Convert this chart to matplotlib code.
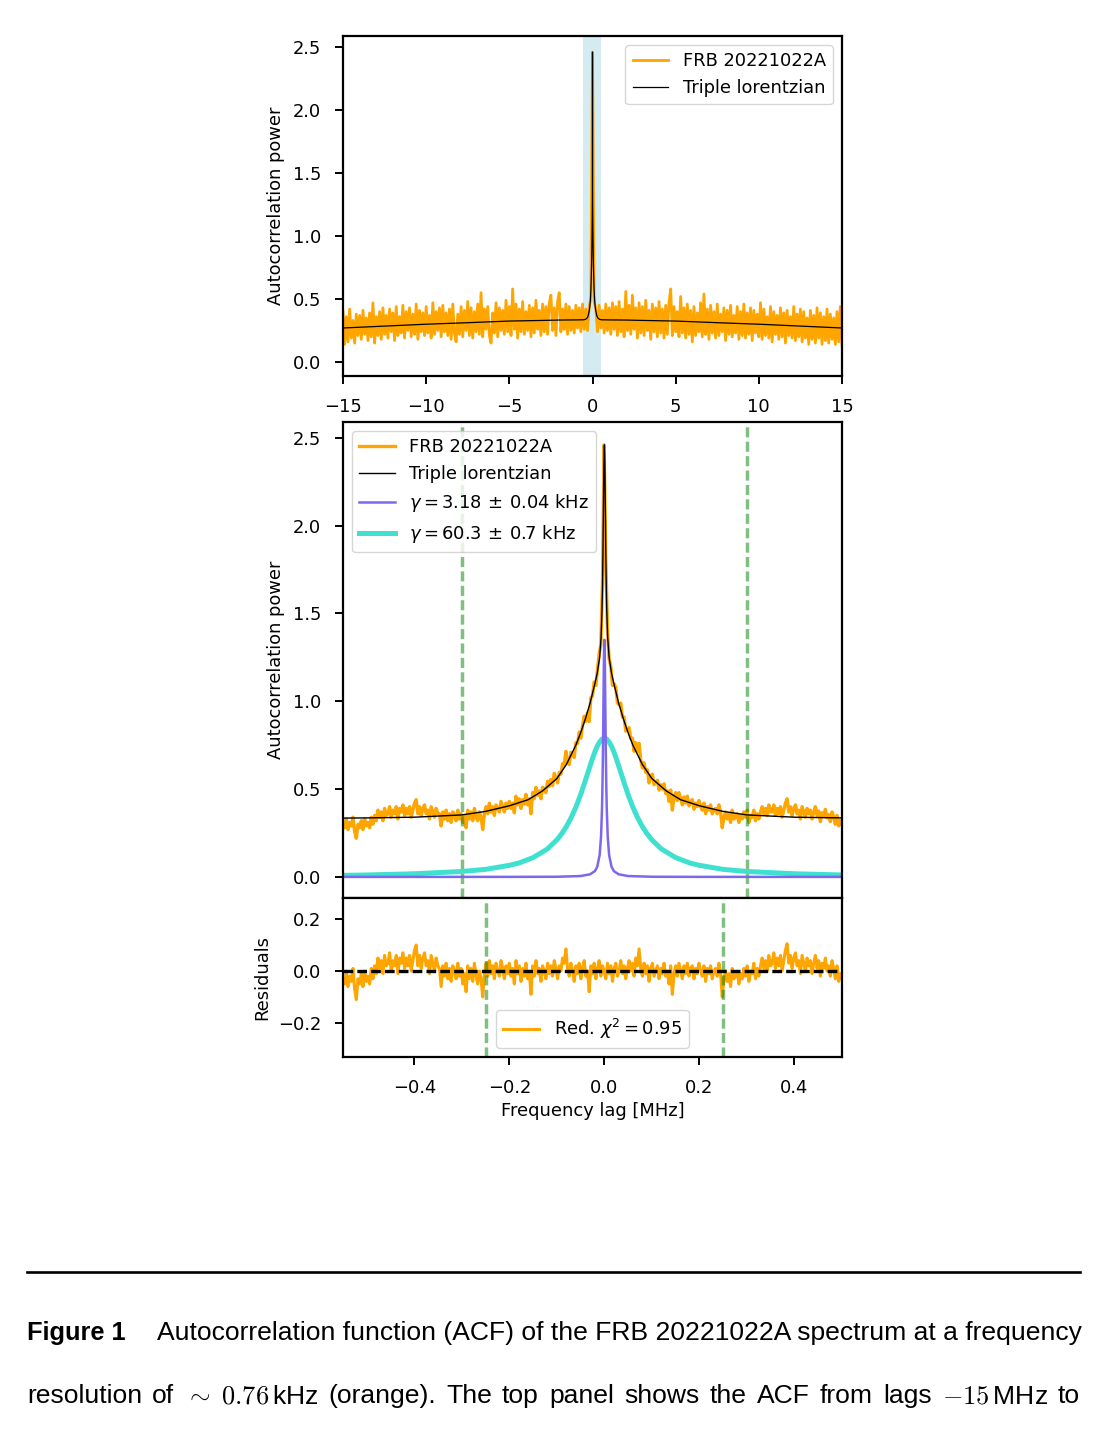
import numpy as np
import matplotlib
matplotlib.use("Agg")
import matplotlib.pyplot as plt
from matplotlib.transforms import IdentityTransform

# ---- data ----
# wide-lag ACF (-15 .. 15 MHz), evenly spaced lags
acf_wide = [
    0.40, 0.14, 0.36, 0.16, 0.42, 0.19, 0.33, 0.15, 0.38, 0.21,
    0.37, 0.18, 0.41, 0.22, 0.35, 0.17, 0.39, 0.20, 0.47, 0.15,
    0.36, 0.21, 0.40, 0.18, 0.43, 0.22, 0.37, 0.19, 0.42, 0.24,
    0.39, 0.17, 0.44, 0.21, 0.36, 0.23, 0.45, 0.19, 0.40, 0.25,
    0.43, 0.20, 0.38, 0.22, 0.46, 0.18, 0.41, 0.24, 0.39, 0.21,
    0.44, 0.23, 0.37, 0.19, 0.47, 0.22, 0.40, 0.25, 0.43, 0.20,
    0.45, 0.24, 0.39, 0.21, 0.42, 0.18, 0.46, 0.23, 0.16, 0.38,
    0.22, 0.44, 0.20, 0.41, 0.25, 0.48, 0.21, 0.43, 0.19, 0.40,
    0.24, 0.46, 0.22, 0.55, 0.20, 0.42, 0.26, 0.44, 0.21, 0.15,
    0.39, 0.23, 0.47, 0.20, 0.43, 0.25, 0.41, 0.22, 0.49, 0.24,
    0.44, 0.21, 0.58, 0.26, 0.46, 0.19, 0.42, 0.24, 0.48, 0.22,
    0.40, 0.25, 0.45, 0.20, 0.43, 0.23, 0.49, 0.26, 0.41, 0.21,
    0.46, 0.24, 0.44, 0.22, 0.47, 0.53, 0.25, 0.43, 0.21, 0.48,
    0.55, 0.24, 0.42, 0.26, 0.46, 0.22, 0.44, 0.25, 0.41, 0.23,
    0.45, 0.27, 0.43, 0.24, 0.46, 0.26, 0.42, 0.25, 0.44, 0.50,
    2.46,
    0.48, 0.42, 0.24, 0.45, 0.27, 0.41, 0.23, 0.46, 0.25, 0.43,
    0.22, 0.47, 0.26, 0.44, 0.21, 0.48, 0.24, 0.42, 0.20, 0.56,
    0.25, 0.45, 0.22, 0.53, 0.26, 0.43, 0.19, 0.47, 0.23, 0.44,
    0.21, 0.49, 0.25, 0.41, 0.18, 0.46, 0.24, 0.43, 0.20, 0.48,
    0.23, 0.42, 0.19, 0.45, 0.22, 0.47, 0.58, 0.21, 0.44, 0.24,
    0.40, 0.20, 0.52, 0.23, 0.43, 0.19, 0.46, 0.22, 0.41, 0.16,
    0.44, 0.21, 0.39, 0.24, 0.47, 0.20, 0.54, 0.22, 0.42, 0.18,
    0.45, 0.23, 0.40, 0.19, 0.46, 0.21, 0.38, 0.24, 0.43, 0.17,
    0.41, 0.22, 0.45, 0.20, 0.37, 0.23, 0.44, 0.18, 0.40, 0.21,
    0.46, 0.19, 0.39, 0.22, 0.43, 0.17, 0.41, 0.23, 0.38, 0.20,
    0.47, 0.18, 0.42, 0.21, 0.36, 0.19, 0.44, 0.16, 0.40, 0.22,
    0.37, 0.18, 0.43, 0.20, 0.39, 0.15, 0.41, 0.21, 0.36, 0.19,
    0.44, 0.17, 0.38, 0.20, 0.42, 0.16, 0.40, 0.19, 0.35, 0.14,
    0.41, 0.18, 0.37, 0.15, 0.43, 0.19, 0.39, 0.14, 0.36, 0.17,
    0.42, 0.15, 0.38, 0.18, 0.35, 0.14, 0.40, 0.16, 0.44, 0.13,
]

# zoomed ACF (-0.55 .. 0.5 MHz), evenly spaced lags
acf_zoom = [
    0.30, 0.28, 0.33, 0.27, 0.31, 0.29, 0.34, 0.26, 0.22, 0.30,
    0.28, 0.32, 0.27, 0.33, 0.29, 0.31, 0.28, 0.34, 0.30, 0.35,
    0.32, 0.38, 0.34, 0.37, 0.32, 0.39, 0.35, 0.36, 0.40, 0.34,
    0.38, 0.36, 0.40, 0.33, 0.39, 0.37, 0.41, 0.35, 0.39, 0.36,
    0.40, 0.34, 0.38, 0.42, 0.44, 0.36, 0.40, 0.35, 0.39, 0.41,
    0.36, 0.38, 0.33, 0.40, 0.37, 0.34, 0.39, 0.36, 0.36, 0.29,
    0.37, 0.33, 0.38, 0.32, 0.36, 0.31, 0.37, 0.35, 0.32, 0.38,
    0.33, 0.36, 0.31, 0.35, 0.28, 0.38, 0.33, 0.37, 0.32, 0.39,
    0.34, 0.32, 0.37, 0.34, 0.27, 0.36, 0.40, 0.36, 0.42, 0.37,
    0.40, 0.35, 0.41, 0.39, 0.37, 0.43, 0.40, 0.37, 0.42, 0.39,
    0.43, 0.39, 0.42, 0.365, 0.46, 0.41, 0.445, 0.39, 0.44, 0.415,
    0.47, 0.41, 0.445, 0.36, 0.48, 0.445, 0.51, 0.465, 0.49, 0.445,
    0.51, 0.50, 0.48, 0.545, 0.515, 0.555, 0.52, 0.59, 0.565, 0.535,
    0.595, 0.585, 0.645, 0.64, 0.715, 0.655, 0.64, 0.71, 0.70, 0.68,
    0.765, 0.76, 0.825, 0.79, 0.86, 0.915, 0.885, 0.935, 0.885, 1.02,
    1.03, 1.11, 1.09, 1.18, 1.27, 1.32, 1.67, 2.46, 1.81, 1.41,
    1.24, 1.20, 1.09, 1.10, 1.08, 0.99, 0.98, 0.99, 0.91, 0.91,
    0.83, 0.84, 0.85, 0.785, 0.79, 0.715, 0.765, 0.715, 0.76, 0.665,
    0.62, 0.65, 0.595, 0.61, 0.535, 0.575, 0.585, 0.525, 0.54, 0.55,
    0.495, 0.525, 0.50, 0.53, 0.475, 0.49, 0.43, 0.495, 0.38, 0.455,
    0.48, 0.435, 0.48, 0.445, 0.41, 0.455, 0.42, 0.46, 0.405, 0.43,
    0.44, 0.385, 0.42, 0.40, 0.435, 0.40, 0.38, 0.42, 0.36, 0.40,
    0.38, 0.41, 0.36, 0.38, 0.39, 0.36, 0.41, 0.37, 0.28, 0.34,
    0.37, 0.33, 0.36, 0.31, 0.38, 0.33, 0.34, 0.36, 0.31, 0.35,
    0.33, 0.37, 0.34, 0.38, 0.31, 0.35, 0.34, 0.38, 0.32, 0.36,
    0.33, 0.37, 0.40, 0.36, 0.39, 0.35, 0.41, 0.37, 0.37, 0.41,
    0.35, 0.39, 0.36, 0.40, 0.34, 0.38, 0.42, 0.445, 0.37, 0.40,
    0.35, 0.39, 0.41, 0.36, 0.38, 0.33, 0.40, 0.37, 0.34, 0.39,
    0.36, 0.38, 0.33, 0.37, 0.40, 0.35, 0.375, 0.315, 0.365, 0.345,
    0.385, 0.335, 0.355, 0.315, 0.37, 0.34, 0.30, 0.35, 0.29, 0.32,
    0.30,
]

residuals = [
    -0.03, -0.05, 0.00, -0.06, -0.02, -0.04, 0.01, -0.07, -0.11, -0.03,
    -0.05, -0.01, -0.06, 0.00, -0.04, -0.02, -0.05, 0.01, -0.03, 0.02,
    -0.01, 0.05, 0.01, 0.04, -0.01, 0.06, 0.02, 0.03, 0.07, 0.00,
    0.04, 0.02, 0.06, -0.01, 0.05, 0.03, 0.07, 0.01, 0.05, 0.02,
    0.06, 0.00, 0.04, 0.08, 0.10, 0.02, 0.06, 0.01, 0.05, 0.07,
    0.02, 0.04, -0.01, 0.06, 0.03, 0.00, 0.05, 0.02, 0.01, -0.06,
    0.02, -0.02, 0.03, -0.03, 0.01, -0.04, 0.02, 0.00, -0.03, 0.03,
    -0.02, 0.01, -0.05, -0.01, -0.08, 0.02, -0.03, 0.01, -0.04, 0.03,
    -0.02, -0.05, 0.00, -0.03, -0.10, -0.01, 0.03, -0.02, 0.04, -0.01,
    0.02, -0.03, 0.03, 0.00, -0.02, 0.04, 0.01, -0.03, 0.02, -0.01,
    0.03, -0.02, 0.01, -0.05, 0.04, -0.01, 0.02, -0.04, 0.01, -0.02,
    0.03, -0.03, 0.00, -0.09, 0.02, -0.02, 0.04, -0.01, 0.01, -0.04,
    0.02, 0.00, -0.03, 0.03, -0.01, 0.02, -0.02, 0.04, 0.01, -0.03,
    0.02, 0.00, 0.05, 0.03, 0.085, 0.01, -0.02, 0.03, 0.00, -0.04,
    0.02, -0.01, 0.03, -0.03, 0.01, 0.04, -0.02, 0.00, -0.08, 0.02,
    -0.01, 0.03, -0.03, 0.01, 0.04, -0.02, 0.02, 0.00, -0.03, 0.03,
    -0.01, 0.02, -0.04, 0.01, 0.03, -0.02, 0.00, 0.04, -0.01, 0.02,
    -0.03, 0.01, 0.04, 0.00, 0.03, -0.02, 0.05, 0.02, 0.085, 0.01,
    -0.02, 0.03, -0.01, 0.02, -0.04, 0.01, 0.03, -0.02, 0.00, 0.02,
    -0.03, 0.01, -0.01, 0.03, -0.02, 0.00, -0.05, 0.02, -0.09, -0.01,
    0.02, -0.02, 0.03, 0.00, -0.03, 0.02, -0.01, 0.03, -0.02, 0.01,
    0.02, -0.03, 0.01, -0.01, 0.03, 0.00, -0.02, 0.02, -0.04, 0.01,
    -0.01, 0.02, -0.03, 0.00, 0.01, -0.02, 0.03, -0.01, -0.10, -0.03,
    0.00, -0.04, -0.01, -0.06, 0.01, -0.03, -0.02, 0.00, -0.05, -0.01,
    -0.03, 0.01, -0.02, 0.02, -0.04, 0.00, -0.01, 0.03, -0.03, 0.01,
    -0.02, 0.02, 0.05, 0.01, 0.04, 0.00, 0.06, 0.02, 0.03, 0.07,
    0.01, 0.05, 0.02, 0.06, 0.00, 0.04, 0.08, 0.105, 0.03, 0.06,
    0.01, 0.05, 0.07, 0.02, 0.04, -0.01, 0.06, 0.03, 0.00, 0.05,
    0.02, 0.04, -0.01, 0.03, 0.06, 0.01, 0.04, -0.02, 0.03, 0.01,
    0.05, 0.00, 0.02, -0.02, 0.04, 0.01, -0.03, 0.02, -0.04, -0.01,
    -0.03,
]

# triple lorentzian fit
fit_lag = [-15, -12.5, -10, -7.5, -5, -3, -2, -1, -0.55, -0.5, -0.4, -0.3,
           -0.25, -0.2, -0.16, -0.13, -0.1, -0.08, -0.06, -0.05, -0.04, -0.03,
           -0.02, -0.015, -0.01, -0.007, -0.005, -0.004, -0.003, -0.002, -0.001,
           0,
           0.001, 0.002, 0.003, 0.004, 0.005, 0.007, 0.01, 0.015, 0.02, 0.03,
           0.04, 0.05, 0.06, 0.08, 0.1, 0.13, 0.16, 0.2, 0.25, 0.3, 0.4, 0.5,
           0.55, 1, 2, 3, 5, 7.5, 10, 12.5, 15]
fit_power = [0.27, 0.285, 0.30, 0.312, 0.325, 0.33, 0.333, 0.334, 0.335, 0.336,
             0.34, 0.353, 0.373, 0.405, 0.44, 0.49, 0.56, 0.64, 0.75, 0.82, 0.90,
             0.99, 1.10, 1.16, 1.25, 1.36, 1.52, 1.65, 1.84, 2.10, 2.36,
             2.46,
             2.36, 2.10, 1.84, 1.65, 1.52, 1.36, 1.25, 1.16, 1.10, 0.99, 0.90,
             0.82, 0.75, 0.64, 0.56, 0.49, 0.44, 0.405, 0.373, 0.353, 0.34,
             0.336, 0.335, 0.334, 0.333, 0.33, 0.325, 0.312, 0.30, 0.285, 0.27]

# narrow component (gamma = 3.18 kHz)
narrow_lag = [-0.55, -0.2, -0.1, -0.05, -0.03, -0.02, -0.015, -0.01, -0.007,
              -0.005, -0.004, -0.003, -0.0025, -0.002, -0.0015, -0.001, -0.0005,
              0,
              0.0005, 0.001, 0.0015, 0.002, 0.0025, 0.003, 0.004, 0.005, 0.007,
              0.01, 0.015, 0.02, 0.03, 0.05, 0.1, 0.2, 0.55]
narrow_power = [0.0, 0.0003, 0.001, 0.005, 0.015, 0.033, 0.058, 0.124, 0.231,
                0.389, 0.523, 0.714, 0.834, 0.967, 1.104, 1.228, 1.317,
                1.35,
                1.317, 1.228, 1.104, 0.967, 0.834, 0.714, 0.523, 0.389, 0.231,
                0.124, 0.058, 0.033, 0.015, 0.005, 0.001, 0.0003, 0.0]

# wider component (gamma = 60.3 kHz)
wide_lag = [-0.55, -0.5, -0.4, -0.3, -0.25, -0.2, -0.18, -0.15, -0.12, -0.1,
            -0.09, -0.08, -0.07, -0.06, -0.05, -0.04, -0.035, -0.03, -0.025,
            -0.02, -0.015, -0.01, -0.005,
            0,
            0.005, 0.01, 0.015, 0.02, 0.025, 0.03, 0.035, 0.04, 0.05, 0.06,
            0.07, 0.08, 0.09, 0.1, 0.12, 0.15, 0.18, 0.2, 0.25, 0.3, 0.4, 0.5,
            0.55]
wide_power = [0.009, 0.011, 0.018, 0.031, 0.043, 0.066, 0.079, 0.110, 0.159,
              0.211, 0.245, 0.286, 0.337, 0.397, 0.468, 0.549, 0.591, 0.633,
              0.674, 0.712, 0.744, 0.768, 0.785,
              0.79,
              0.785, 0.768, 0.744, 0.712, 0.674, 0.633, 0.591, 0.549, 0.468,
              0.397, 0.337, 0.286, 0.245, 0.211, 0.159, 0.110, 0.079, 0.066,
              0.043, 0.031, 0.018, 0.011, 0.009]

lag_wide = np.linspace(-15, 15, len(acf_wide))
lag_zoom = np.linspace(-0.55, 0.5, len(acf_zoom))

# ---- figure ----
W, H = 1108, 1434
plt.rcParams.update({
    "font.size": 12.9,
    "axes.linewidth": 1.6,
    "xtick.major.width": 1.4,
    "ytick.major.width": 1.4,
    "xtick.major.size": 5.5,
    "ytick.major.size": 5.5,
    "xtick.major.pad": 10.0,
    "ytick.major.pad": 10.0,
})

fig = plt.figure(figsize=(W / 100, H / 100), dpi=100)


def box(x0, y0, x1, y1):
    return [x0 / W, 1 - y1 / H, (x1 - x0) / W, (y1 - y0) / H]


ax_top = fig.add_axes(box(343, 36, 842, 376))
ax_mid = fig.add_axes(box(343, 422, 842, 898))
ax_res = fig.add_axes(box(343, 898, 842, 1057), sharex=ax_mid)

dash = (2.9, 1.25)

# top panel
ax_top.axvspan(-0.55, 0.5, color="lightblue", alpha=0.5, lw=0)
ax_top.plot(lag_wide, acf_wide, color="orange", lw=2.0, label="FRB 20221022A")
ax_top.plot(fit_lag, fit_power, color="k", lw=0.9, label="Triple lorentzian")
ax_top.set_xlim(-15, 15)
ax_top.set_ylim(-0.111, 2.587)
ax_top.set_xticks([-15, -10, -5, 0, 5, 10, 15])
ax_top.set_yticks([0.0, 0.5, 1.0, 1.5, 2.0, 2.5])
ax_top.set_ylabel("Autocorrelation power")
ax_top.yaxis.set_label_coords(-0.116, 0.5)
ax_top.legend(loc="upper right")

# middle panel
ax_mid.plot(lag_zoom, acf_zoom, color="orange", lw=2.4, label="FRB 20221022A", zorder=2)
ax_mid.plot(fit_lag, fit_power, color="k", lw=1.0, label="Triple lorentzian", zorder=2.1)
ax_mid.plot(narrow_lag, narrow_power, color="mediumslateblue", lw=1.8,
            label=r"$\gamma = 3.18\,\pm\,0.04$ kHz", zorder=2.3)
ax_mid.plot(wide_lag, wide_power, color="turquoise", lw=3.6,
            label=r"$\gamma = 60.3\,\pm\,0.7$ kHz", zorder=2.2)
for x in (-0.3, 0.3):
    ax_mid.axvline(x, color="green", alpha=0.5, lw=2.5, ls="--", dashes=dash)
ax_mid.set_xlim(-0.55, 0.5)
ax_mid.set_ylim(-0.12, 2.59)
ax_mid.set_yticks([0.0, 0.5, 1.0, 1.5, 2.0, 2.5])
ax_mid.tick_params(labelbottom=False)
ax_mid.set_ylabel("Autocorrelation power")
ax_mid.yaxis.set_label_coords(-0.116, 0.5)
ax_mid.legend(loc="upper left")

# residuals
ax_res.plot(lag_zoom, residuals, color="orange", lw=2.2, label=r"Red. $\chi^2 = 0.95$")
ax_res.axhline(0, color="k", lw=2.4, ls="--", dashes=dash, zorder=3)
for x in (-0.25, 0.25):
    ax_res.axvline(x, color="green", alpha=0.5, lw=2.5, ls="--", dashes=dash)
ax_res.set_ylim(-0.331, 0.281)
ax_res.set_yticks([-0.2, 0.0, 0.2])
ax_res.set_xticks([-0.4, -0.2, 0.0, 0.2, 0.4])
ax_res.set_ylabel("Residuals")
ax_res.yaxis.set_label_coords(-0.143, 0.5)
ax_res.set_xlabel("Frequency lag [MHz]")
ax_res.legend(loc="lower center")

# ---- caption ----
fig.add_artist(plt.Line2D([27 / W, 1080 / W], [1 - 1272 / H, 1 - 1272 / H],
                          color="k", lw=1.9))

renderer = fig.canvas.get_renderer()


def cap_text(s, x, base, size, bold=False):
    return fig.text(x, H - base, s, transform=IdentityTransform(),
                    fontsize=size, family="Liberation Sans",
                    fontweight="bold" if bold else "normal",
                    math_fontfamily="cm", va="baseline", ha="left")


def fit_size(s, width, bold=False):
    t = cap_text(s, 0, 0, 18.0, bold)
    w = t.get_window_extent(renderer).width
    t.remove()
    return 18.0 * width / w


def justify(words, x0, x1, base, size):
    texts = [cap_text(w, 0, base, size) for w in words]
    widths = [t.get_window_extent(renderer).width for t in texts]
    gap = (x1 - x0 - sum(widths)) / (len(words) - 1)
    x = x0
    for t, w in zip(texts, widths):
        t.set_x(x)
        x += w + gap


line1 = "Autocorrelation function (ACF) of the FRB 20221022A spectrum at a frequency"
body_size = fit_size(line1, 1080 - 157)
bold_size = fit_size("Figure 1", 99, bold=True)

cap_text("Figure 1", 27, 1340, bold_size, bold=True)
cap_text(line1, 157, 1340, body_size)
justify(["resolution", "of", r"$\sim\;0.76\,$kHz", "(orange).", "The", "top", "panel",
         "shows", "the", "ACF", "from", "lags", r"$-15\,$MHz", "to"],
        27, 1080, 1403, body_size)

fig.savefig("out.png", dpi=100)
